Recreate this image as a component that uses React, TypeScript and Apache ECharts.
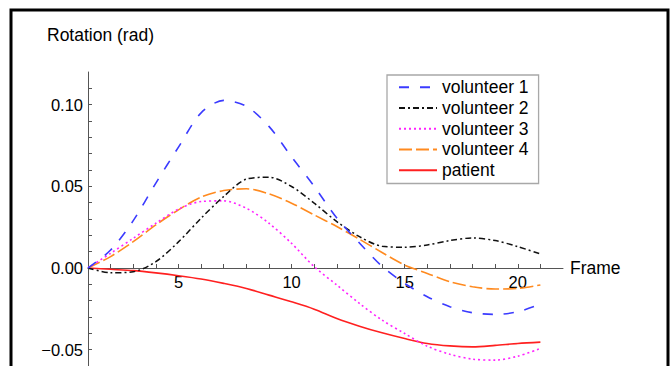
import React, { useEffect, useRef } from "react";
import * as echarts from "echarts";

const frames = [1, 2, 3, 4, 5, 6, 7, 8, 9, 10, 11, 12, 13, 14, 15, 16, 17, 18, 19, 20, 21];
const volunteer1 = [0, 0.011, 0.029, 0.052, 0.074, 0.095, 0.1026, 0.099, 0.0867, 0.068, 0.05, 0.0306, 0.0153, 0.001, -0.0094, -0.0176, -0.0237, -0.0274, -0.0284, -0.0268, -0.0221];
const volunteer2 = [0, -0.0029, -0.0023, 0.0039, 0.016, 0.0305, 0.0438, 0.0544, 0.0556, 0.0499, 0.0397, 0.0284, 0.0192, 0.0133, 0.0127, 0.0141, 0.0168, 0.0184, 0.0168, 0.0131, 0.0086];
const volunteer3 = [0, 0.009, 0.0182, 0.0274, 0.036, 0.0407, 0.0411, 0.0366, 0.0274, 0.0151, 0.0008, -0.0104, -0.0217, -0.0319, -0.0401, -0.0479, -0.0528, -0.0558, -0.0564, -0.054, -0.0493];
const volunteer4 = [0, 0.007, 0.0161, 0.0264, 0.0356, 0.0434, 0.0474, 0.0485, 0.0454, 0.0397, 0.0325, 0.0254, 0.0176, 0.0095, 0.0018, -0.0033, -0.0084, -0.0115, -0.0129, -0.0125, -0.0104];
const patient = [0, -0.0008, -0.0016, -0.003, -0.0047, -0.0067, -0.0094, -0.0125, -0.0166, -0.0207, -0.0252, -0.0309, -0.0356, -0.0397, -0.0432, -0.0462, -0.0477, -0.0483, -0.0474, -0.0462, -0.0454];

const seriesNames = ["volunteer 1", "volunteer 2", "volunteer 3", "volunteer 4", "patient"];
const xTickLabels = [5, 10, 15, 20];
const yTickLabels = [-0.05, 0, 0.05, 0.1];

const FONT = "'Liberation Sans', Arial, Helvetica, sans-serif";

export default function App() {
  const ref = useRef<HTMLDivElement>(null);
  useEffect(() => {
    if (!ref.current) return;
    const chart = echarts.init(ref.current, undefined, { renderer: "svg" });
    const mk = (vals: number[]) => frames.map((f, i) => [f, vals[i]]);
    const styles = [
      { color: "#3b3bff", type: [10, 11], width: 1.6 },
      { color: "#111111", type: [6, 3, 2, 3], width: 1.5 },
      { color: "#ff22ff", type: [2, 3], width: 1.6 },
      { color: "#ff8a1f", type: [13, 4], width: 1.6 },
      { color: "#ff2020", type: "solid", width: 1.6 },
    ];
    const datasets = [volunteer1, volunteer2, volunteer3, volunteer4, patient];
    // grid: top 72, bottom at 366; y from -0.06 to 0.12 -> zero line 98px above grid bottom
    const yMin = -0.06;
    const yMax = 0.12;
    const gridTop = 72;
    const gridHeight = 366 - gridTop;
    const zeroOffset = -((0 - yMin) / (yMax - yMin)) * gridHeight;
    chart.setOption({
      animation: false,
      backgroundColor: "#ffffff",
      textStyle: { fontFamily: FONT },
      title: {
        text: "Rotation (rad)",
        left: 47,
        top: 26,
        padding: 0,
        textStyle: { fontFamily: FONT, fontSize: 17.5, fontWeight: "normal", color: "#000" },
      },
      grid: { left: 88, right: 108, top: gridTop, bottom: 0, containLabel: false, outerBoundsMode: "none" },
      legend: {
        orient: "vertical",
        left: 387,
        top: 75,
        padding: [2, 10, 3, 11],
        itemWidth: 38,
        itemHeight: 14,
        itemGap: 0,
        backgroundColor: "#ffffff",
        borderColor: "#a8a8a8",
        borderWidth: 1.3,
        borderRadius: 0,
        itemStyle: { opacity: 0 },
        data: seriesNames,
        textStyle: { fontFamily: FONT, fontSize: 17.5, color: "#000", lineHeight: 20.7 },
      },
      xAxis: {
        type: "value",
        min: 1,
        max: 22,
        interval: 1,
        position: "bottom",
        offset: zeroOffset,
        name: "Frame",
        nameLocation: "end",
        nameGap: 7,
        nameTextStyle: { fontFamily: FONT, fontSize: 17.5, color: "#000" },
        axisLine: { show: true, onZero: false, lineStyle: { color: "#555", width: 1 } },
        axisTick: { show: true, inside: true, length: 4, lineStyle: { color: "#555" } },
        axisLabel: {
          margin: 5,
          fontFamily: FONT,
          fontSize: 16.5,
          color: "#000",
          showMinLabel: false,
          showMaxLabel: false,
          formatter: (v: number) => (xTickLabels.includes(Math.round(v)) ? String(Math.round(v)) : ""),
        },
        splitLine: { show: false },
      },
      yAxis: {
        type: "value",
        min: yMin,
        max: yMax,
        interval: 0.01,
        axisLine: { show: true, onZero: false, lineStyle: { color: "#555", width: 1 } },
        axisTick: { show: true, inside: true, length: 4, lineStyle: { color: "#555" } },
        axisLabel: {
          margin: 5,
          fontFamily: FONT,
          fontSize: 16.5,
          color: "#000",
          showMinLabel: false,
          showMaxLabel: false,
          formatter: (v: number) => {
            const hit = yTickLabels.find((t) => Math.abs(t - v) < 1e-6);
            if (hit === undefined) return "";
            const s = Math.abs(hit).toFixed(2);
            return hit < 0 ? "\u2212" + s : s;
          },
        },
        splitLine: { show: false },
      },
      graphic: [
        {
          type: "rect",
          shape: { x: 11, y: 10, width: 657, height: 400 },
          style: { fill: "none", stroke: "#000", lineWidth: 3 },
          silent: true,
          z: 100,
        },
      ],
      series: datasets.map((d, i) => ({
        name: seriesNames[i],
        type: "line",
        data: mk(d),
        symbol: "none",
        smooth: 0.3,
        lineStyle: { color: styles[i].color, type: styles[i].type, width: styles[i].width },
        itemStyle: { color: styles[i].color },
        z: 5 - i,
      })),
    });
    return () => chart.dispose();
  }, []);
  return (
    <div
      ref={ref}
      style={{ position: "absolute", left: 0, top: 0, width: 671, height: 366 }}
    />
  );
}
